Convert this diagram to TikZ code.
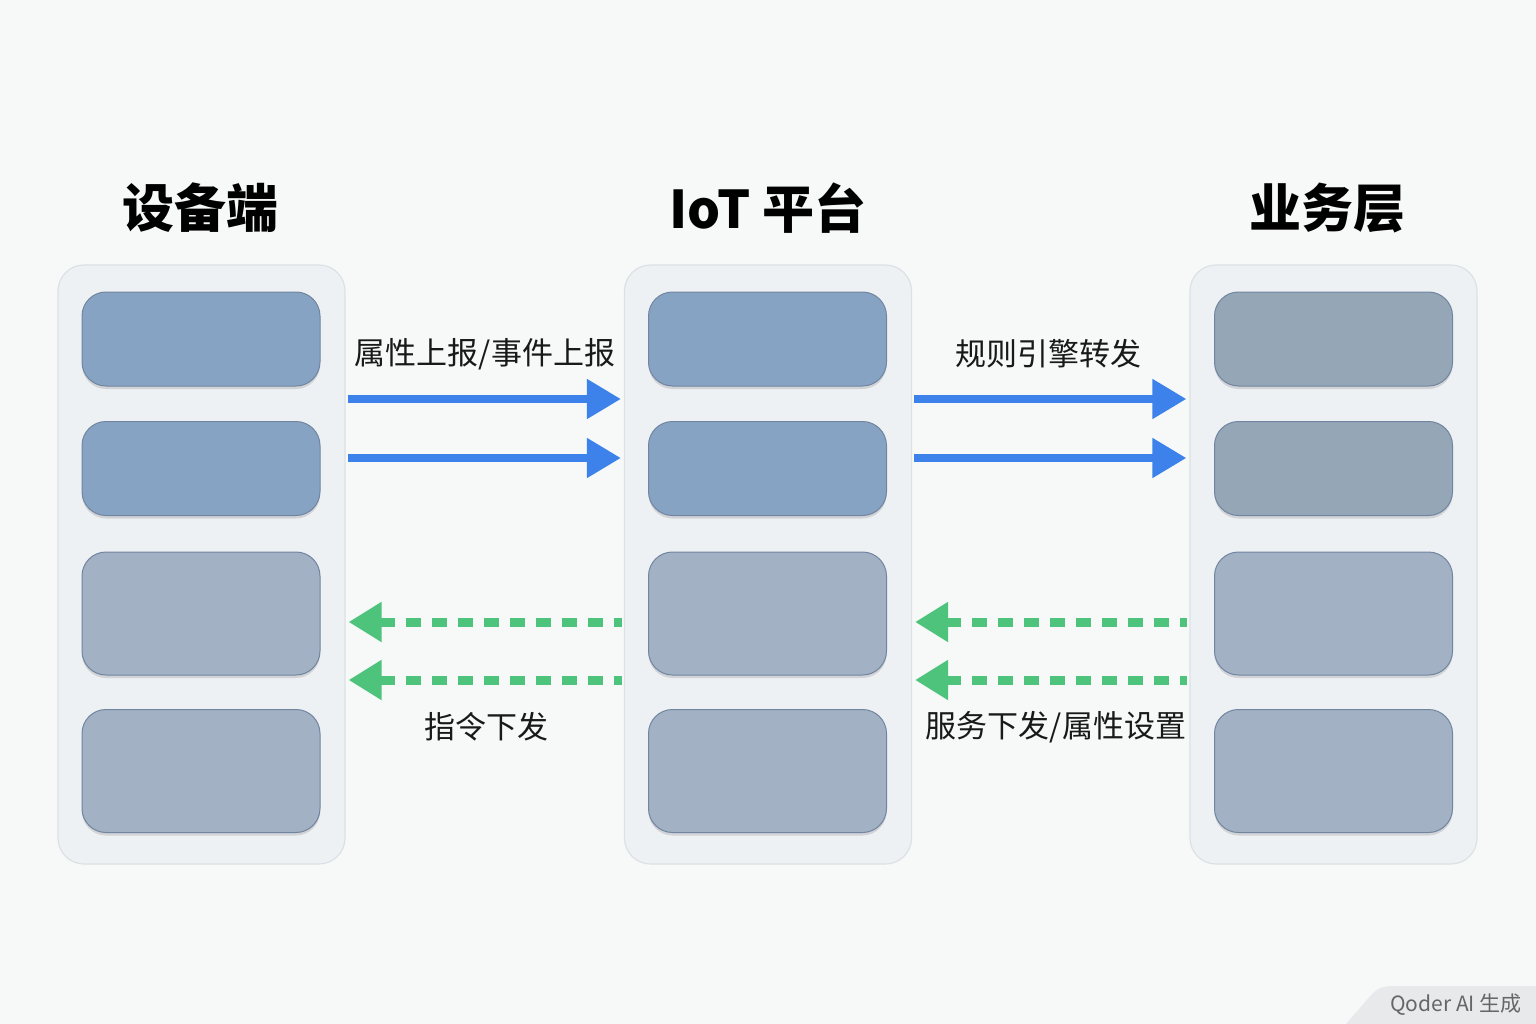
\documentclass[tikz,border=0pt]{standalone}
\usepackage{fontspec}
\setmainfont{Noto Sans CJK SC}
\usetikzlibrary{arrows.meta,shadows}
\definecolor{bg}{HTML}{F7F9F9}
\definecolor{panelfill}{HTML}{EEF1F4}
\definecolor{paneldraw}{HTML}{DCE1E5}
\definecolor{boxA}{HTML}{87A3C4}
\definecolor{boxB}{HTML}{95A6B7}
\definecolor{boxC}{HTML}{A2B2C4}
\definecolor{boxdraw}{HTML}{7185A0}
\definecolor{bluearr}{HTML}{3D82EA}
\definecolor{greenarr}{HTML}{4DC37B}
\definecolor{tabgray}{HTML}{E7E9EB}
\begin{document}
\begin{tikzpicture}[x=1pt,y=-1pt,
  panel/.style={draw=paneldraw, line width=1.2pt, fill=panelfill, rounded corners=26pt,
     minimum width=287pt, minimum height=599pt, inner sep=0pt},
  cell/.style={draw=boxdraw, line width=1pt, rounded corners=24pt, minimum width=238pt,
     inner sep=0pt, drop shadow={shadow xshift=0pt, shadow yshift=-3pt, opacity=0.12, fill=black}},
  shortcell/.style={cell, minimum height=94pt},
  tallcell/.style={cell, minimum height=123pt},
  title/.style={font=\fontsize{52}{60}\selectfont\bfseries, text=black},
  lbl/.style={font=\fontsize{31}{36}\selectfont, text=black!90},
  up/.style={draw=bluearr, line width=8pt, -{Triangle[length=34pt,width=38pt]}},
  down/.style={draw=greenarr, line width=9pt, dash pattern=on 15pt off 11pt,
     {Triangle[length=33pt,width=38pt]}-}
]
\fill[bg] (0,0) rectangle (1536,1024);
\useasboundingbox (0,0) rectangle (1536,1024);

% titles
\node[title] (tL) at (200,208) {设备端};
\node[title] (tM) at (768,208) {IoT 平台};
\node[title] (tR) at (1327,208) {业务层};

% panels
\node[panel] (pL) at (201.5,564.5) {};
\node[panel] (pM) at (768,564.5) {};
\node[panel] (pR) at (1333.5,564.5) {};

% cells
\foreach \c/\x/\u in {L/201/boxA, M/767.5/boxA, R/1333.5/boxB}{
  \node[shortcell, fill=\u] (\c1) at (\x,339) {};
  \node[shortcell, fill=\u] (\c2) at (\x,468.5) {};
  \node[tallcell, fill=boxC] (\c3) at (\x,613.5) {};
  \node[tallcell, fill=boxC] (\c4) at (\x,771) {};
}

% arrow rows
\coordinate (r1) at (0,399);
\coordinate (r2) at (0,458);
\coordinate (r3) at (0,622);
\coordinate (r4) at (0,680);

\draw[up, shorten <=2pt, shorten >=3pt] (pL.east |- r1) -- (pM.west |- r1);
\draw[up, shorten <=2pt, shorten >=3pt] (pL.east |- r2) -- (pM.west |- r2);
\draw[up, shorten <=2pt, shorten >=3pt] (pM.east |- r1) -- (pR.west |- r1);
\draw[up, shorten <=2pt, shorten >=3pt] (pM.east |- r2) -- (pR.west |- r2);

\draw[down, shorten <=3pt, shorten >=2pt] (pL.east |- r3) -- (pM.west |- r3);
\draw[down, shorten <=3pt, shorten >=2pt] (pL.east |- r4) -- (pM.west |- r4);
\draw[down, shorten <=3pt, shorten >=2pt] (pM.east |- r3) -- (pR.west |- r3);
\draw[down, shorten <=3pt, shorten >=2pt] (pM.east |- r4) -- (pR.west |- r4);

% labels
\node[lbl] (l1) at (485,354) {属性上报/事件上报};
\node[lbl] (l2) at (1048,354) {规则引擎转发};
\node[lbl] (l3) at (486,727) {指令下发};
\node[lbl] (l4) at (1056,727) {服务下发/属性设置};

% watermark tab
\fill[tabgray] (1346,1024) -- (1372,994) to[out=45,in=180] (1392,986) -- (1536,986) -- (1536,1024) -- cycle;
\node[font=\fontsize{21}{24}\selectfont, text=black!60] (wm) at (1456,1005) {Qoder AI 生成};
\end{tikzpicture}
\end{document}
